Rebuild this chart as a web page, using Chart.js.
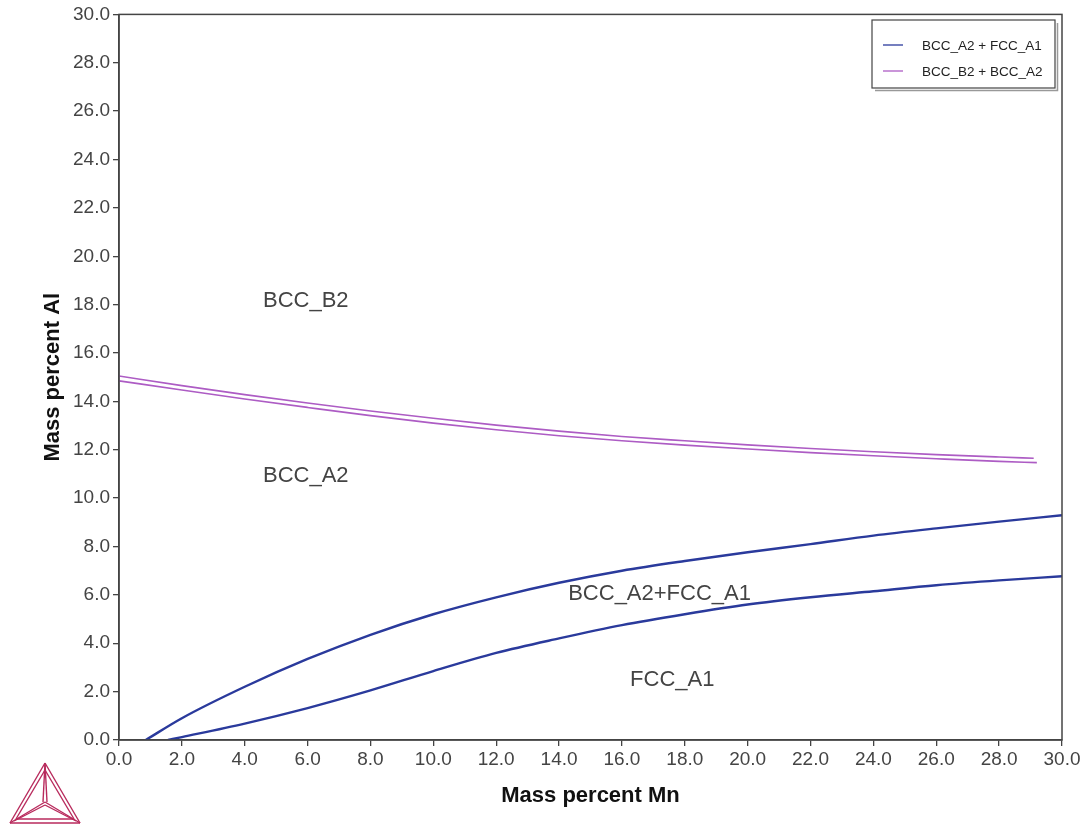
<!DOCTYPE html>
<html>
<head>
<meta charset="utf-8">
<script src="https://cdn.jsdelivr.net/npm/chart.js@4/dist/chart.umd.min.js"></script>
<style>
  html, body { margin: 0; padding: 0; background: #fff; }
  canvas { display: block; }
</style>
</head>
<body>
<canvas id="diagram" width="1092" height="827"></canvas>
<script>
// phase boundaries, mass percent Mn (x) vs mass percent Al (y)
const a2FccUpperMn = [0.85, 2, 4, 6, 8, 10, 12, 14, 16, 18, 20, 22, 24, 26, 28, 30];
const a2FccUpperAl = [0, 0.9, 2.2, 3.35, 4.35, 5.2, 5.9, 6.5, 7.0, 7.4, 7.76, 8.1, 8.45, 8.75, 9.03, 9.29];

const a2FccLowerMn = [1.56, 2, 4, 6, 8, 10, 12, 14, 16, 18, 20, 22, 24, 26, 28, 30];
const a2FccLowerAl = [0, 0.12, 0.68, 1.32, 2.05, 2.85, 3.6, 4.2, 4.75, 5.2, 5.6, 5.9, 6.15, 6.4, 6.6, 6.77];

const b2A2UpperMn = [0, 2, 4, 6, 8, 10, 12, 14, 16, 18, 20, 22, 24, 26, 28, 29.1];
const b2A2UpperAl = [15.05, 14.65, 14.28, 13.93, 13.6, 13.3, 13.02, 12.77, 12.55, 12.37, 12.2, 12.05, 11.92, 11.8, 11.7, 11.65];

const b2A2LowerMn = [0, 2, 4, 6, 8, 10, 12, 14, 16, 18, 20, 22, 24, 26, 28, 29.2];
const b2A2LowerAl = [14.85, 14.47, 14.1, 13.75, 13.41, 13.1, 12.83, 12.58, 12.37, 12.19, 12.03, 11.88, 11.75, 11.63, 11.52, 11.47];

const legendLabels = ['BCC_A2 + FCC_A1', 'BCC_B2 + BCC_A2'];
const regionNames = ['BCC_B2', 'BCC_A2', 'BCC_A2+FCC_A1', 'FCC_A1'];
const regionMn = [4.58, 4.58, 14.29, 16.26];
const regionAl = [18.16, 10.9, 6.03, 2.48];

const BLUE = '#2a3a9c';
const MAGENTA = '#ad5cc4';

function pts(xs, ys) {
  return xs.map((x, i) => ({ x: x, y: ys[i] }));
}

function curve(label, xs, ys, color, width) {
  return {
    label: label,
    data: pts(xs, ys),
    borderColor: color,
    backgroundColor: color,
    borderWidth: width,
    showLine: true,
    pointRadius: 0,
    cubicInterpolationMode: 'monotone'
  };
}

// frame, region names, legend box and logo
const decorations = {
  id: 'decorations',
  afterDatasetsDraw(chart) {
    const ctx = chart.ctx;
    const area = chart.chartArea;
    const xs = chart.scales.x, ys = chart.scales.y;
    ctx.save();

    ctx.strokeStyle = '#444';
    ctx.lineWidth = 1.5;
    ctx.strokeRect(area.left, area.top, area.right - area.left, area.bottom - area.top);

    ctx.fillStyle = '#444';
    ctx.font = '22px "Liberation Sans", Arial, sans-serif';
    ctx.textAlign = 'left';
    ctx.textBaseline = 'middle';
    regionNames.forEach((name, i) => {
      ctx.fillText(name, xs.getPixelForValue(regionMn[i]), ys.getPixelForValue(regionAl[i]));
    });

    // legend
    const lx = 872, ly = 20, lw = 183, lh = 68;
    ctx.fillStyle = '#fff';
    ctx.fillRect(lx, ly, lw, lh);
    ctx.strokeStyle = '#999';
    ctx.lineWidth = 1.5;
    ctx.beginPath();
    ctx.moveTo(lx + 3, ly + lh + 2.5);
    ctx.lineTo(lx + lw + 2.5, ly + lh + 2.5);
    ctx.lineTo(lx + lw + 2.5, ly + 3);
    ctx.stroke();
    ctx.strokeStyle = '#444';
    ctx.lineWidth = 1.2;
    ctx.strokeRect(lx, ly, lw, lh);
    const legendColors = [chart.data.datasets[0].borderColor, chart.data.datasets[2].borderColor];
    ctx.font = '13.5px "Liberation Sans", Arial, sans-serif';
    legendLabels.forEach((label, i) => {
      const y = ly + 25 + i * 26;
      ctx.strokeStyle = legendColors[i];
      ctx.lineWidth = 1.3;
      ctx.beginPath();
      ctx.moveTo(lx + 11, y);
      ctx.lineTo(lx + 31, y);
      ctx.stroke();
      ctx.fillStyle = '#222';
      ctx.fillText(label, lx + 50, y + 1);
    });

    // triangle logo
    ctx.strokeStyle = '#b82a5c';
    ctx.lineWidth = 1.4;
    const A = [45, 763], B = [10, 823], C = [80, 823], O = [45, 802];
    const seg = (p, q) => { ctx.beginPath(); ctx.moveTo(p[0], p[1]); ctx.lineTo(q[0], q[1]); ctx.stroke(); };
    seg(A, B); seg(B, C); seg(C, A);
    seg([45, 770], [16, 819]); seg([16, 819], [74, 819]); seg([74, 819], [45, 770]);
    seg(A, [43, 802]); seg(A, [47, 802]);
    seg(O, B); seg([45, 805], [14, 821]);
    seg(O, C); seg([45, 805], [76, 821]);
    ctx.restore();
  }
};

const axisColor = '#444';

new Chart(document.getElementById('diagram').getContext('2d'), {
  type: 'scatter',
  data: {
    datasets: [
      curve(legendLabels[0], a2FccUpperMn, a2FccUpperAl, BLUE, 2.4),
      curve(legendLabels[0], a2FccLowerMn, a2FccLowerAl, BLUE, 2.4),
      curve(legendLabels[1], b2A2UpperMn, b2A2UpperAl, MAGENTA, 1.6),
      curve(legendLabels[1], b2A2LowerMn, b2A2LowerAl, MAGENTA, 1.6)
    ]
  },
  options: {
    responsive: false,
    animation: false,
    layout: { padding: { left: 0, top: 13, right: 30, bottom: 0 } },
    plugins: { legend: { display: false }, tooltip: { enabled: false } },
    scales: {
      x: {
        type: 'linear',
        min: 0,
        max: 30,
        afterFit(scale) { scale.height = 87; },
        ticks: {
          stepSize: 2,
          autoSkip: false,
          maxRotation: 0,
          padding: 2,
          color: '#444',
          font: { family: '"Liberation Sans", Arial, sans-serif', size: 19 },
          callback: v => v.toFixed(1)
        },
        grid: { drawOnChartArea: false, drawTicks: true, tickLength: 6, color: axisColor, lineWidth: 1.3 },
        border: { display: true, color: axisColor, width: 1.5 },
        title: {
          display: true,
          text: 'Mass percent Mn',
          color: '#111',
          font: { family: '"Liberation Sans", Arial, sans-serif', size: 22, weight: 'bold', lineHeight: 1.2 },
          padding: { top: 0, bottom: 18 }
        }
      },
      y: {
        type: 'linear',
        min: 0,
        max: 30,
        afterFit(scale) { scale.width = 119; },
        ticks: {
          stepSize: 2,
          autoSkip: false,
          padding: 3,
          color: '#444',
          font: { family: '"Liberation Sans", Arial, sans-serif', size: 19 },
          callback: v => v.toFixed(1)
        },
        grid: { drawOnChartArea: false, drawTicks: true, tickLength: 6, color: axisColor, lineWidth: 1.3 },
        border: { display: true, color: axisColor, width: 1.5 },
        title: {
          display: true,
          text: 'Mass percent Al',
          color: '#111',
          font: { family: '"Liberation Sans", Arial, sans-serif', size: 22, weight: 'bold', lineHeight: 1.2 },
          padding: { top: 40, bottom: 0 }
        }
      }
    }
  },
  plugins: [decorations]
});
</script>
</body>
</html>
